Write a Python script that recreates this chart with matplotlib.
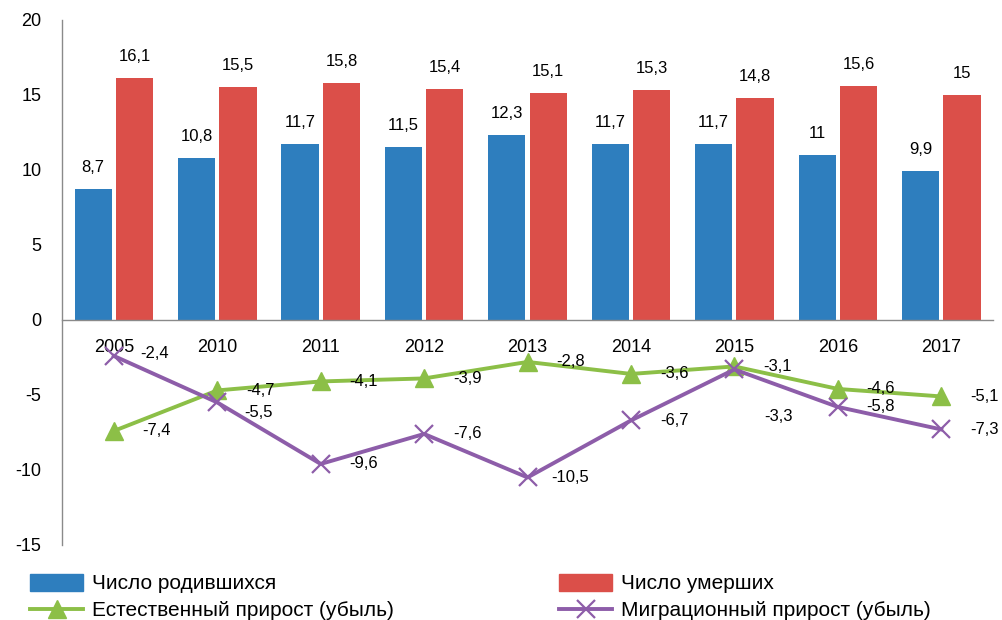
import numpy as np
import matplotlib
matplotlib.use("Agg")
import matplotlib.pyplot as plt
from matplotlib.patches import Patch
from matplotlib.lines import Line2D

plt.rcParams["font.family"] = ["Liberation Sans", "DejaVu Sans"]
plt.rcParams["axes.unicode_minus"] = False

# demographic indicators, per 1000 population
YEARS     = ["2005", "2010", "2011", "2012", "2013", "2014", "2015", "2016", "2017"]
BIRTHS    = [8.7, 10.8, 11.7, 11.5, 12.3, 11.7, 11.7, 11.0, 9.9]
DEATHS    = [16.1, 15.5, 15.8, 15.4, 15.1, 15.3, 14.8, 15.6, 15.0]
NATURAL   = [-7.4, -4.7, -4.1, -3.9, -2.8, -3.6, -3.1, -4.6, -5.1]
MIGRATION = [-2.4, -5.5, -9.6, -7.6, -10.5, -6.7, -3.3, -5.8, -7.3]

BLUE   = "#2E7EBE"
RED    = "#DB4F49"
GREEN  = "#8CBF47"
PURPLE = "#8D5DA9"

# label nudges (points) where the default right-hand spot collides
MIG_OFFS = {0: (29, 2), 1: (30, -7), 6: (32, -34)}


def fmt(v):
    return f"{v:g}".replace(".", ",")


fig = plt.figure(figsize=(10.02, 6.2), dpi=100)
ax = fig.add_axes([0.062, 0.121, 0.929, 0.847])

# x axis runs along zero; do this before styling ticks (it resets them)
ax.spines["top"].set_visible(False)
ax.spines["right"].set_visible(False)
ax.spines["bottom"].set_position(("data", 0))
for s in ("left", "bottom"):
    ax.spines[s].set_color("#8a8a8a")
    ax.spines[s].set_linewidth(1.0)

x = np.arange(len(YEARS))
w = 0.36
ax.bar(x - 0.2, BIRTHS, w, color=BLUE, zorder=2)
ax.bar(x + 0.2, DEATHS, w, color=RED, zorder=2)
ax.plot(x, NATURAL, color=GREEN, lw=2.8, marker="^", ms=13, zorder=3)
ax.plot(x, MIGRATION, color=PURPLE, lw=2.8, marker="x", ms=13, mew=1.6, zorder=3)

lbl = dict(fontsize=12, ha="center", textcoords="offset points")
for i in x:
    ax.annotate(fmt(BIRTHS[i]), (i - 0.2, BIRTHS[i]), xytext=(0, 10), va="bottom", **lbl)
    ax.annotate(fmt(DEATHS[i]), (i + 0.2, DEATHS[i]), xytext=(0, 10), va="bottom", **lbl)
    ax.annotate(fmt(NATURAL[i]), (i, NATURAL[i]), xytext=(31, 0), va="center", **lbl)
    ax.annotate(fmt(MIGRATION[i]), (i, MIGRATION[i]), xytext=MIG_OFFS.get(i, (31, 0)),
                va="center", **lbl)

ax.set_xlim(-0.5, 8.5)
ax.set_ylim(-15, 20)
ax.set_yticks(np.arange(-15, 21, 5))
ax.set_yticklabels([str(v) for v in range(-15, 21, 5)], fontsize=13)
ax.set_xticks(x)
ax.set_xticklabels(YEARS, fontsize=13)
ax.tick_params(axis="both", length=0)
ax.tick_params(axis="y", pad=15)
ax.tick_params(axis="x", pad=14)

leg_kw = dict(loc="center left", frameon=False, fontsize=15, borderpad=0, borderaxespad=0,
              handlelength=2.55, handleheight=0.87, handletextpad=0.4, labelspacing=0.35)
fig.legend(handles=[Patch(color=BLUE, label="Число родившихся"),
                    Line2D([0], [0], color=GREEN, lw=2.8, marker="^", ms=13,
                           label="Естественный прирост (убыль)")],
           bbox_to_anchor=(0.030, 0.0370), **leg_kw)
fig.legend(handles=[Patch(color=RED, label="Число умерших"),
                    Line2D([0], [0], color=PURPLE, lw=2.8, marker="x", ms=13, mew=1.6,
                           label="Миграционный прирост (убыль)")],
           bbox_to_anchor=(0.558, 0.0370), **leg_kw)

fig.savefig("out.png", dpi=100)
